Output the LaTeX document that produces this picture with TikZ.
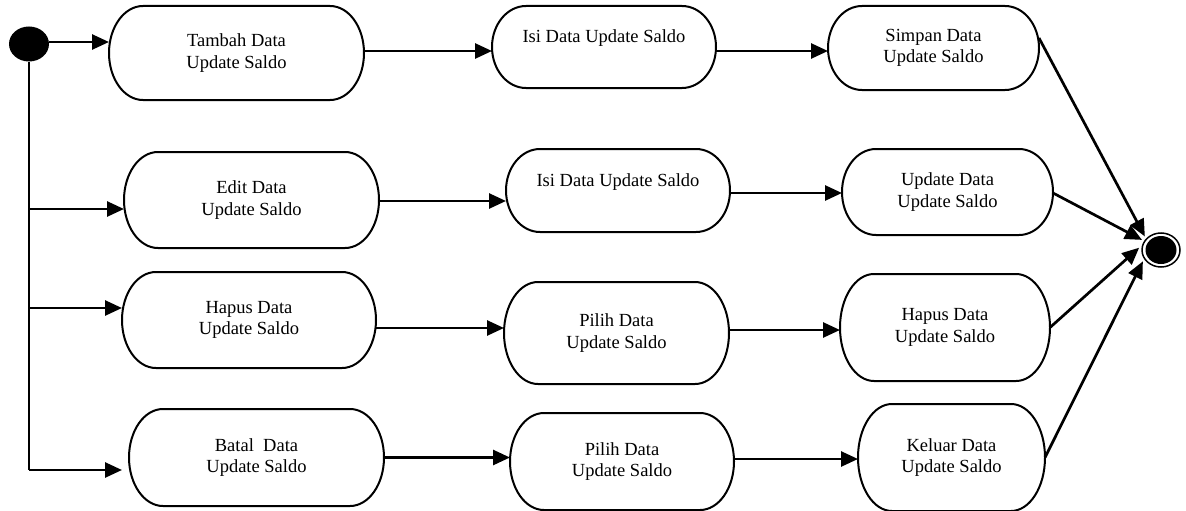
\documentclass[tikz,border=0pt]{standalone}
\usepackage{fontspec}
\setmainfont{Liberation Serif}
\usetikzlibrary{arrows.meta,shapes.geometric,calc}
\newcommand\stadium[1]{%
  \draw[line width=2pt] let \p1=(#1.north east), \p2=(#1.south west), \n1={(\y1-\y2)/2} in
    ([xshift=-34pt]#1.north east) arc[start angle=90, end angle=-90, x radius=34pt, y radius=\n1]
    -- ([xshift=34pt]#1.south west) arc[start angle=270, end angle=90, x radius=34pt, y radius=\n1]
    -- cycle;}
\begin{document}
\begin{tikzpicture}[x=1pt,y=-1pt,
  act/.style={align=center, inner sep=0pt, outer sep=1pt,
    font=\fontsize{18.5}{21.5}\selectfont},
  arr/.style={line width=2.7pt, -{Triangle[length=17pt,width=15pt]}},
  ln/.style={line width=2.7pt}]
\useasboundingbox (0,0) rectangle (1186,511);

% start / end
\node[ellipse, fill=black, minimum width=40pt, minimum height=35pt, inner sep=0pt] (start) at (29,44) {};
\node[ellipse, draw, line width=1.5pt, minimum width=38pt, minimum height=34pt, inner sep=0pt, outer sep=3pt] (end) at (1161,250) {};
\node[ellipse, fill=black, minimum width=31pt, minimum height=28pt, inner sep=0pt] (endin) at (end.center) {};

% row 1
\node[act, minimum width=253pt, minimum height=92pt] (tambah) at (236.5,53) {Tambah Data\\Update Saldo};
\node[act, minimum width=222pt, minimum height=80pt] (isi1) at (604,47) {Isi Data Update Saldo\\~};
\node[act, minimum width=209pt, minimum height=82pt] (simpan) at (933.5,48) {Simpan Data\\Update Saldo};
% row 2
\node[act, minimum width=253pt, minimum height=94pt] (edit) at (251.5,200) {Edit Data\\Update Saldo};
\node[act, minimum width=222pt, minimum height=81pt] (isi2) at (618,190.5) {Isi Data Update Saldo\\~};
\node[act, minimum width=209pt, minimum height=84pt] (update) at (947.5,192) {Update Data\\Update Saldo};
% row 3
\node[act, minimum width=252pt, minimum height=94pt] (hapus1) at (249,320) {Hapus Data\\Update Saldo};
\node[act, minimum width=223pt, minimum height=100pt] (pilih1) at (616.5,333) {Pilih Data\\Update Saldo};
\node[act, minimum width=208pt, minimum height=105pt] (hapus2) at (945,327.5) {Hapus Data\\Update Saldo};
% row 4
\node[act, minimum width=253pt, minimum height=95pt] (batal) at (256.5,457.5) {Batal\ \ Data\\Update Saldo};
\node[act, minimum width=222pt, minimum height=95pt] (pilih2) at (622,461.5) {Pilih Data\\Update Saldo};
\node[act, minimum width=185pt, minimum height=105pt] (keluar) at (951.5,457.5) {Keluar Data\\Update Saldo};

\stadium{tambah}\stadium{isi1}\stadium{simpan}
\stadium{edit}\stadium{isi2}\stadium{update}
\stadium{hapus1}\stadium{pilih1}\stadium{hapus2}
\stadium{batal}\stadium{pilih2}\stadium{keluar}

% branch line
\coordinate (b2) at (29,209);
\coordinate (b3) at (29,308);
\coordinate (b4) at (29,470);
\draw[ln] (start.south) -- (b4);

\draw[arr] ([yshift=2pt]start.east) -- ([yshift=2pt]start.east -| tambah.west);
\draw[arr] (b2) -- (b2 -| edit.west);
\draw[arr] (b3) -- (b3 -| hapus1.west);
\draw[arr, shorten >=7pt] (b4) -- (b4 -| batal.west);

% horizontal flows
\draw[arr] ([yshift=2pt]tambah.east) -- ([yshift=2pt]tambah.east -| isi1.west);
\draw[arr] ([yshift=-4pt]isi1.east) -- ([yshift=-4pt]isi1.east -| simpan.west);
\draw[arr] ([yshift=-1pt]edit.east) -- ([yshift=-1pt]edit.east -| isi2.west);
\draw[arr] ([yshift=-2.5pt]isi2.east) -- ([yshift=-2.5pt]isi2.east -| update.west);
\draw[arr] ([yshift=-8pt]hapus1.east) -- ([yshift=-8pt]hapus1.east -| pilih1.west);
\draw[arr] ([yshift=3pt]pilih1.east) -- ([yshift=3pt]pilih1.east -| hapus2.west);
\draw[arr] (batal.east) -- (batal.east -| pilih2.west);
\draw[arr] ([yshift=2.5pt]pilih2.east) -- ([yshift=2.5pt]pilih2.east -| keluar.west);

% to final
\draw[arr] ([yshift=10pt]simpan.east) -- (end.140);
\draw[arr] ([yshift=-1pt]update.east) -- (end.152);
\draw[arr] (hapus2.east) -- (end.174);
\draw[arr] (keluar.east) -- (end.212);
\end{tikzpicture}
\end{document}
